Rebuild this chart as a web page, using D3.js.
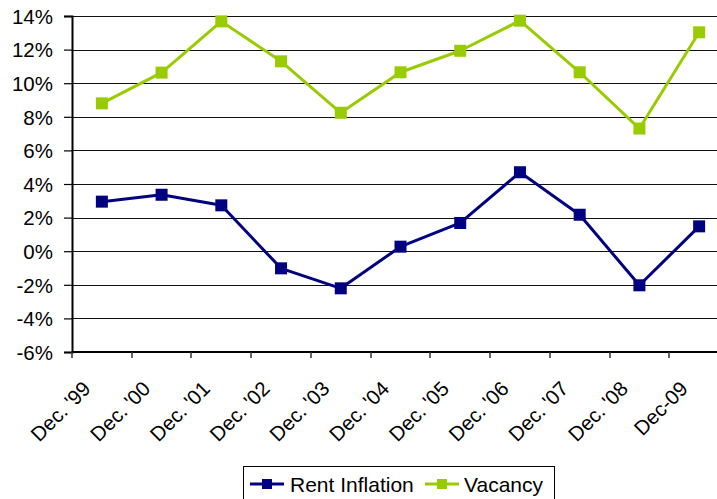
<!DOCTYPE html>
<html>
<head>
<meta charset="utf-8">
<script src="https://cdn.jsdelivr.net/npm/d3@7"></script>
<style>
  html, body { margin: 0; padding: 0; background: #fff; }
  svg { display: block; }
  text { font-family: "Liberation Sans", Arial, sans-serif; fill: #000; }
</style>
</head>
<body>
<svg id="chart" width="717" height="499"></svg>
<script>
// Annual figures, December of each year
const categories = ["Dec. '99", "Dec. '00", "Dec. '01", "Dec. '02", "Dec. '03", "Dec. '04",
                    "Dec. '05", "Dec. '06", "Dec. '07", "Dec. '08", "Dec-09"];
const rentInflation = [2.95, 3.36, 2.73, -1.02, -2.21, 0.27, 1.68, 4.70, 2.17, -2.03, 1.48];
const vacancy       = [8.80, 10.63, 13.68, 11.30, 8.24, 10.65, 11.93, 13.72, 10.65, 7.30, 13.03];
const yTicks = [-6, -4, -2, 0, 2, 4, 6, 8, 10, 12, 14];

const series = [
  { name: "Rent Inflation", values: rentInflation, color: "#000080" },
  { name: "Vacancy",        values: vacancy,       color: "#99cc00" }
];

const svg = d3.select("#chart");
const plotLeft = 72, plotTop = 16, plotH = 336, plotW = 657;

const x = d3.scaleBand().domain(categories).range([plotLeft, plotLeft + plotW]).padding(0);
const y = d3.scaleLinear().domain([-6, 14]).range([plotTop + plotH, plotTop]);

// Horizontal gridlines
svg.append("g")
  .selectAll("line")
  .data(yTicks)
  .join("line")
  .attr("x1", plotLeft).attr("x2", plotLeft + plotW)
  .attr("y1", d => Math.round(y(d)) + 0.5).attr("y2", d => Math.round(y(d)) + 0.5)
  .attr("stroke", "#111").attr("stroke-width", 1.2);

// Y axis
const yAxis = svg.append("g")
  .attr("transform", `translate(${plotLeft},0)`)
  .call(d3.axisLeft(y).tickValues(yTicks).tickFormat(d => d + "%").tickSize(8).tickPadding(11));
yAxis.select(".domain").attr("stroke", "#000").attr("stroke-width", 2);
yAxis.selectAll(".tick line").attr("stroke", "#000").attr("stroke-width", 1.2);
yAxis.selectAll("text").attr("font-size", "20.5px").attr("fill", "#000").attr("dy", "0.36em");

// X axis: ticks sit on the category boundaries
const xAxis = svg.append("g").attr("transform", `translate(0,${plotTop + plotH})`);
xAxis.append("line")
  .attr("x1", plotLeft).attr("x2", plotLeft + plotW)
  .attr("stroke", "#000").attr("stroke-width", 2);
const bounds = categories.map(c => x(c)).concat([x(categories[categories.length - 1]) + x.bandwidth()]);
xAxis.selectAll(".btick")
  .data(bounds)
  .join("line")
  .attr("class", "btick")
  .attr("x1", d => Math.round(d)).attr("x2", d => Math.round(d))
  .attr("y1", 0).attr("y2", 6)
  .attr("stroke", "#333").attr("stroke-width", 1.5);
xAxis.selectAll(".xlabel")
  .data(categories)
  .join("text")
  .attr("class", "xlabel")
  .attr("text-anchor", "end")
  .attr("font-size", "20.5px")
  .attr("transform", d => `translate(${x(d) + x.bandwidth() / 2 - 10},${38}) rotate(-45)`)
  .text(d => d);

// Lines and markers
const line = d3.line()
  .x((d, i) => x(categories[i]) + x.bandwidth() / 2)
  .y(d => y(d));

series.forEach(s => {
  svg.append("path")
    .datum(s.values)
    .attr("fill", "none")
    .attr("stroke", s.color)
    .attr("stroke-width", 3)
    .attr("stroke-linejoin", "round")
    .attr("d", line);
  svg.append("g")
    .selectAll("rect")
    .data(s.values)
    .join("rect")
    .attr("x", (d, i) => x(categories[i]) + x.bandwidth() / 2 - 6)
    .attr("y", d => y(d) - 6)
    .attr("width", 12).attr("height", 12)
    .attr("fill", s.color);
});

// Legend
const legend = svg.append("g");
legend.append("rect")
  .attr("x", 243.5).attr("y", 466.5)
  .attr("width", 311).attr("height", 40)
  .attr("fill", "#fff").attr("stroke", "#000").attr("stroke-width", 1);
const legendItems = [
  { s: series[0], x0: 250, tx: 290 },
  { s: series[1], x0: 425, tx: 464 }
];
legendItems.forEach(it => {
  const ly = 484;
  legend.append("line")
    .attr("x1", it.x0).attr("x2", it.x0 + 34)
    .attr("y1", ly).attr("y2", ly)
    .attr("stroke", it.s.color).attr("stroke-width", 3);
  legend.append("rect")
    .attr("x", it.x0 + 17 - 5).attr("y", ly - 5)
    .attr("width", 10).attr("height", 10)
    .attr("fill", it.s.color);
  legend.append("text")
    .attr("x", it.tx).attr("y", ly)
    .attr("dy", "0.36em")
    .attr("font-size", "21px")
    .text(it.s.name);
});
</script>
</body>
</html>
